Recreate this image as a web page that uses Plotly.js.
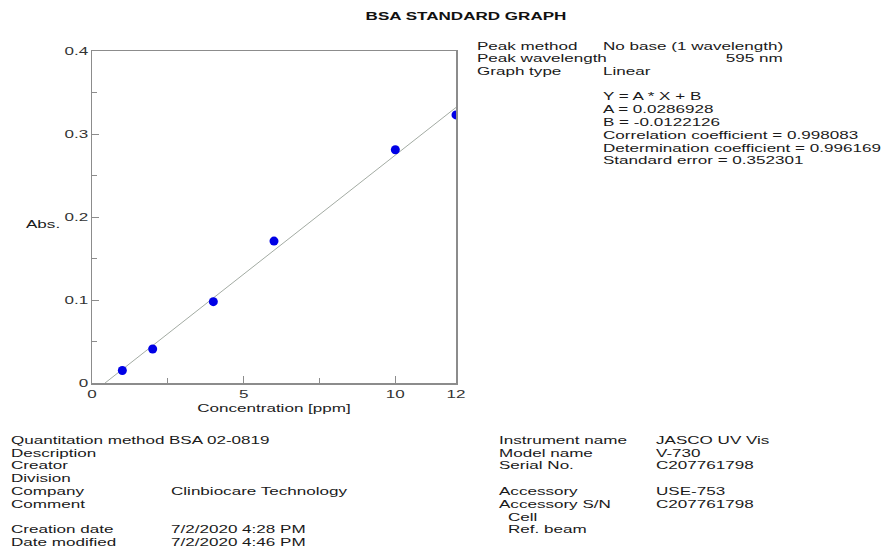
<!DOCTYPE html>
<html>
<head>
<meta charset="utf-8">
<script src="https://cdn.plot.ly/plotly-3.0.1.min.js"></script>
<style>
html,body{margin:0;padding:0;background:#fff;}
#chart{width:883px;height:551px;}
</style>
</head>
<body>
<div id="chart"></div>
<script>
// ---- data ----
var concentration = [1, 2, 4, 6, 10, 12];
var absorbance = [0.015, 0.041, 0.098, 0.171, 0.281, 0.323];
var fitX = [0.43, 12];
var fitY = [0, 0.332];
var xTickVals = [0, 5, 10, 12];
var xTickText = ['0', '5', '10', '12'];

var peakLabels = ['Peak method', 'Peak wavelength', 'Graph type'];
var peakValues = ['No base (1 wavelength)', '', 'Linear'];
var wavelengthText = '595 nm';
var equationLines = ['Y = A * X + B', 'A = 0.0286928', 'B = -0.0122126',
  'Correlation coefficient = 0.998083', 'Determination coefficient = 0.996169',
  'Standard error = 0.352301'];
var methodLabels = ['Quantitation method', 'Description', 'Creator', 'Division', 'Company', 'Comment', '', 'Creation date', 'Date modified'];
var methodValues = ['BSA 02-0819', '', '', '', 'Clinbiocare Technology', '', '', '7/2/2020 4:28 PM', '7/2/2020 4:46 PM'];
var instrLabels = ['Instrument name', 'Model name', 'Serial No.', '', 'Accessory', 'Accessory S/N', 'Cell', 'Ref. beam'];
var instrIndent = [0, 0, 0, 0, 0, 0, 1, 1];
var instrValues = ['JASCO UV Vis', 'V-730', 'C207761798', '', 'USE-753', 'C207761798', '', ''];

// ---- layout geometry ----
var W = 883, H = 551;
var L = 92, R = 456, T = 50.5, B = 383;
function px(x){ return (x - L) / (R - L); }
function py(y){ return (B - y) / (B - T); }
var FONT = 'Liberation Sans, Arial, sans-serif';
var TXT = '#1a1a1a';
var FS = 11;
var LH = 12.8;
var STRETCH = 1.55; // reference text is horizontally widened

var ann = [];
function addText(text, x, y, anchor){
  if (!text) return;
  anchor = anchor || 'left';
  ann.push({text: text, xref: 'paper', yref: 'paper', x: px(x), y: py(y),
    xanchor: anchor, yanchor: 'middle', align: anchor, showarrow: false, borderpad: 0,
    font: {family: FONT, size: FS, color: TXT}});
}
peakLabels.forEach(function(t, i){ addText(t, 476, 45 + i * LH); });
peakValues.forEach(function(t, i){ addText(t, 602, 45 + i * LH); });
addText(wavelengthText, 784, 45 + LH, 'right');
equationLines.forEach(function(t, i){ addText(t, 602, 96 + i * LH); });
methodLabels.forEach(function(t, i){ addText(t, 10, 440 + i * LH); });
methodValues.forEach(function(t, i){ addText(t, i === 0 ? 168 : 170, 440 + i * LH); });
instrLabels.forEach(function(t, i){ addText(t, instrIndent[i] ? 507 : 498, 440 + i * LH); });
instrValues.forEach(function(t, i){ addText(t, 655, 440 + i * LH); });
addText('Abs.', 25, 224);

var traces = [
  {x: fitX, y: fitY, mode: 'lines', type: 'scatter',
   line: {color: '#a3aba3', width: 1}, hoverinfo: 'skip'},
  {x: concentration, y: absorbance, mode: 'markers', type: 'scatter',
   marker: {color: '#0000e6', size: 9}}
];

var axisCommon = {
  showgrid: false, zeroline: false, showline: true, linecolor: '#8c8c8c', linewidth: 1.5,
  mirror: true, ticks: 'inside', ticklen: 7, tickcolor: '#8c8c8c', tickwidth: 1,
  tickfont: {family: FONT, size: FS, color: '#333'}
};

var layout = {
  width: W, height: H,
  margin: {l: L, r: W - R, t: T, b: H - B, pad: 0},
  paper_bgcolor: '#fff', plot_bgcolor: '#fff',
  showlegend: false,
  title: {text: 'BSA STANDARD GRAPH', x: 466 / W, xanchor: 'center', y: 1 - 16 / H, yanchor: 'middle',
    font: {family: FONT, size: 11, color: '#111', weight: 'bold'}},
  xaxis: Object.assign({}, axisCommon, {
    range: [0, 12], tickmode: 'array', tickvals: xTickVals, ticktext: xTickText,
    minor: {ticks: 'inside', ticklen: 5, tickcolor: '#8c8c8c', dtick: 2.5, tick0: 0, showgrid: false},
    title: {text: 'Concentration [ppm]', font: {family: FONT, size: FS, color: '#222'}, standoff: 5}
  }),
  yaxis: Object.assign({}, axisCommon, {
    range: [0, 0.4], dtick: 0.1, tick0: 0,
    minor: {ticks: 'inside', ticklen: 5, tickcolor: '#8c8c8c', dtick: 0.05, tick0: 0, showgrid: false}
  }),
  annotations: ann
};

function widenTexts(){
  var nodes = document.querySelectorAll('#chart svg text');
  nodes.forEach(function(t){
    if (!t.textContent || !t.textContent.trim()) return;
    var w = t.getComputedTextLength();
    if (!w) return;
    t.setAttribute('textLength', (w * STRETCH).toFixed(2));
    t.setAttribute('lengthAdjust', 'spacingAndGlyphs');
  });
}

Plotly.newPlot('chart', traces, layout, {displayModeBar: false, staticPlot: true}).then(widenTexts);
</script>
</body>
</html>
